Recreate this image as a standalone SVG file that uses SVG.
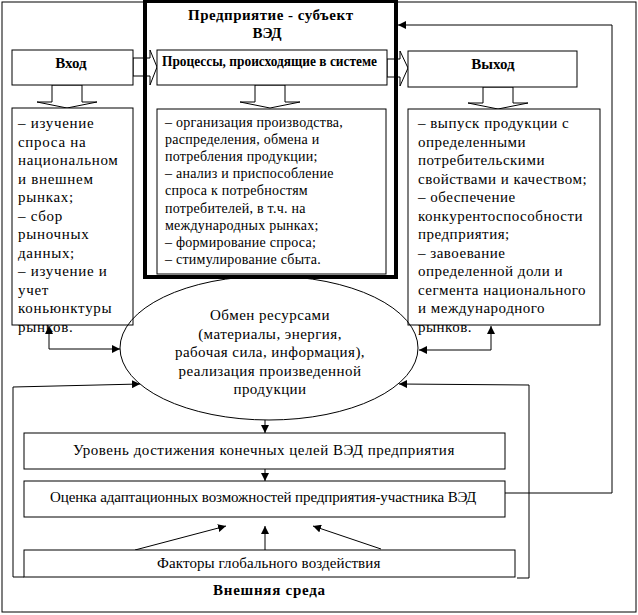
<svg xmlns="http://www.w3.org/2000/svg" width="638" height="615" viewBox="0 0 638 615">
<defs>
<marker id="ah" viewBox="0 0 8 8" refX="8" refY="4" markerWidth="8" markerHeight="8" markerUnits="userSpaceOnUse" orient="auto-start-reverse">
<path d="M0,0 L8,4 L0,8 Z" fill="#000"/>
</marker>
<style>
.box{fill:#fff;stroke:#000;stroke-width:1}
.ln{fill:none;stroke:#000;stroke-width:1}
.blk{fill:#fff;stroke:#000;stroke-width:1}
.t{font-family:"Liberation Serif","Times New Roman",serif;font-size:15px;fill:#000;letter-spacing:0.7px}
.tr{letter-spacing:0.5px}
.te{letter-spacing:0.45px}
.tm{font-family:"Liberation Serif","Times New Roman",serif;font-size:14px;fill:#000;letter-spacing:0.25px}
.b{font-family:"Liberation Serif","Times New Roman",serif;font-size:15px;font-weight:bold;fill:#000}
.c{text-anchor:middle}
</style>
</defs>
<rect x="0" y="0" width="638" height="615" fill="#fff"/>
<rect x="2" y="2" width="634" height="610" class="ln"/>

<g id="connectors">
<polygon class="blk" points="133,58 150,58 150,50 157,67 150,85 150,76 133,76"/>
<polygon class="blk" points="387,59 400,59 400,51 408,68 400,86 400,77 387,77"/>
<polygon class="blk" points="52,85 52,102 37,102 67,108 97,102 82,102 82,85"/>
<polygon class="blk" points="255,85 255,102 240,102 270,108 300,102 285,102 285,85"/>
<polygon class="blk" points="483,87 483,103 468,103 498,109 528,103 513,103 513,87"/>
<polyline class="ln" points="49,326 49,349 120,349" marker-start="url(#ah)" marker-end="url(#ah)"/>
<polyline class="ln" points="491,326 491,350 419,350" marker-start="url(#ah)" marker-end="url(#ah)"/>
<polyline class="ln" points="24,577 13,577 13,387 140,384" marker-end="url(#ah)"/>
<polyline class="ln" points="517,578 529,578 529,385 399,384" marker-end="url(#ah)"/>
<polyline class="ln" points="505,493 612,493 612,25 398,25" marker-end="url(#ah)"/>
<line class="ln" x1="265" y1="420" x2="265" y2="433" marker-end="url(#ah)"/>
<line class="ln" x1="265" y1="469" x2="265" y2="481" marker-end="url(#ah)"/>
<line class="ln" x1="265" y1="550" x2="265" y2="526" marker-end="url(#ah)"/>
<line class="ln" x1="135" y1="550" x2="226" y2="526" marker-end="url(#ah)"/>
<line class="ln" x1="381" y1="549" x2="313" y2="526" marker-end="url(#ah)"/>
</g>

<g id="enterprise">
<rect x="145" y="1" width="251" height="276" fill="none" stroke="#000" stroke-width="4"/>
<text class="b" x="188" y="20" textLength="165" lengthAdjust="spacing">Предприятие - субъект</text>
<text class="b c" x="267" y="38">ВЭД</text>
</g>

<g id="input">
<rect class="box" x="12" y="50" width="121" height="35"/>
<text class="b c" x="71" y="68">Вход</text>
</g>

<g id="processes">
<rect class="box" x="157" y="50" width="230" height="35"/>
<text class="b" x="162" y="66" font-size="11.5" textLength="215" lengthAdjust="spacingAndGlyphs">Процессы, происходящие в системе</text>
</g>

<g id="output">
<rect class="box" x="408" y="51" width="169" height="36"/>
<text class="b c" x="493" y="69">Выход</text>
</g>

<g id="input-list">
<rect class="box" x="12" y="108" width="121" height="217"/>
<text class="t" x="18" y="128"><tspan x="18">– изучение</tspan><tspan x="18" dy="18.5">спроса на</tspan><tspan x="18" dy="18.5">национальном</tspan><tspan x="18" dy="18.5">и внешнем</tspan><tspan x="18" dy="18.5">рынках;</tspan><tspan x="18" dy="18.5">– сбор</tspan><tspan x="18" dy="18.5">рыночных</tspan><tspan x="18" dy="18.5">данных;</tspan><tspan x="18" dy="18.5">– изучение и</tspan><tspan x="18" dy="18.5">учет</tspan><tspan x="18" dy="18.5">коньюнктуры</tspan><tspan x="18" dy="18.5">рынков.</tspan></text>
</g>

<g id="process-list">
<rect class="box" x="157" y="109" width="229" height="165"/>
<text class="tm" x="165" y="127"><tspan x="165">– организация производства,</tspan><tspan x="165" dy="17.1">распределения, обмена и</tspan><tspan x="165" dy="17.1">потребления продукции;</tspan><tspan x="165" dy="17.1">– анализ и приспособление</tspan><tspan x="165" dy="17.1">спроса к потребностям</tspan><tspan x="165" dy="17.1">потребителей, в т.ч. на</tspan><tspan x="165" dy="17.1">международных рынках;</tspan><tspan x="165" dy="17.1">– формирование спроса;</tspan><tspan x="165" dy="17.1">– стимулирование сбыта.</tspan></text>
</g>

<g id="output-list">
<rect class="box" x="408" y="109" width="192" height="216"/>
<text class="t tr" x="418" y="128"><tspan x="418">– выпуск продукции с</tspan><tspan x="418" dy="18.5">определенными</tspan><tspan x="418" dy="18.5">потребительскими</tspan><tspan x="418" dy="18.5">свойствами и качеством;</tspan><tspan x="418" dy="18.5">– обеспечение</tspan><tspan x="418" dy="18.5">конкурентоспособности</tspan><tspan x="418" dy="18.5">предприятия;</tspan><tspan x="418" dy="18.5">– завоевание</tspan><tspan x="418" dy="18.5">определенной доли и</tspan><tspan x="418" dy="18.5">сегмента национального</tspan><tspan x="418" dy="18.5">и международного</tspan><tspan x="418" dy="18.5">рынков.</tspan></text>
</g>

<g id="exchange">
<ellipse cx="269" cy="348" rx="149" ry="72" class="ln"/>
<text class="t te c" x="270" y="320"><tspan x="270">Обмен ресурсами</tspan><tspan x="270" dy="18.5">(материалы, энергия,</tspan><tspan x="270" dy="18.5">рабочая сила, информация),</tspan><tspan x="270" dy="18.5">реализация произведенной</tspan><tspan x="270" dy="18.5">продукции</tspan></text>
</g>

<g id="goals">
<rect class="box" x="24" y="433" width="481" height="36"/>
<text class="t" x="73" y="455" textLength="382" lengthAdjust="spacing">Уровень достижения конечных целей ВЭД предприятия</text>
</g>

<g id="assessment">
<rect class="box" x="24" y="481" width="481" height="36"/>
<text class="t" x="50" y="502" textLength="427" lengthAdjust="spacing">Оценка адаптационных возможностей предприятия-участника ВЭД</text>
</g>

<g id="factors">
<rect class="box" x="24" y="550" width="491" height="27"/>
<text class="t" x="157" y="568" textLength="224" lengthAdjust="spacing">Факторы глобального воздействия</text>
</g>

<g id="environment">
<text class="b" x="213" y="595" textLength="112" lengthAdjust="spacing">Внешняя среда</text>
</g>
</svg>
